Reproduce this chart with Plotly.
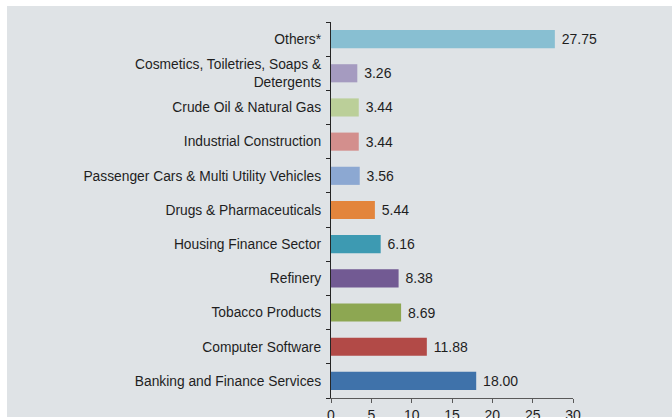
import plotly.graph_objects as go

# Sectors, bottom to top
sectors = [
    "Banking and Finance Services",
    "Computer Software",
    "Tobacco Products",
    "Refinery",
    "Housing Finance Sector",
    "Drugs & Pharmaceuticals",
    "Passenger Cars & Multi Utility Vehicles",
    "Industrial Construction",
    "Crude Oil & Natural Gas",
    "Cosmetics, Toiletries, Soaps &<br>Detergents",
    "Others*",
]
shares = [18.00, 11.88, 8.69, 8.38, 6.16, 5.44, 3.56, 3.44, 3.44, 3.26, 27.75]
bar_colors = [
    "#3F72AA", "#B24A47", "#8DA752", "#725A93", "#3D9AB2", "#E3853C",
    "#8CA8D2", "#D38F8D", "#BBCF99", "#A59BC0", "#88BFD2",
]
x_ticks = [0, 5, 10, 15, 20, 25, 30]

W, H = 672, 418
L, R, T, B = 331, 99, 22, 20
BG = "#DFE3E6"
TXT = "#1E1E1E"
FONT = "Liberation Sans, Arial, sans-serif"

fig = go.Figure(
    go.Bar(
        x=shares,
        y=sectors,
        orientation="h",
        marker=dict(color=bar_colors, line=dict(width=0)),
        width=0.53,
        text=[f" {v:.2f}" for v in shares],
        textposition="outside",
        textfont=dict(family=FONT, size=14, color=TXT),
        cliponaxis=False,
        hoverinfo="skip",
    )
)

# grey panel behind everything, leaving a thin white rim at the top and left
pw, ph = W - L - R, H - T - B
fig.add_shape(
    type="rect", xref="paper", yref="paper", layer="below",
    x0=(7 - L) / pw, x1=(W - L) / pw,
    y0=(H - B - 417) / ph, y1=(H - B - 6) / ph,
    fillcolor=BG, line=dict(width=0),
)

fig.update_layout(
    width=W, height=H,
    margin=dict(l=L, r=R, t=T, b=B, pad=0, autoexpand=False),
    paper_bgcolor="white",
    plot_bgcolor="rgba(0,0,0,0)",
    showlegend=False,
    font=dict(family=FONT, size=13.8, color=TXT),
    xaxis=dict(
        range=[0, 30], tickvals=x_ticks, showgrid=False, zeroline=False,
        showline=True, linecolor="#595959", linewidth=1.2,
        ticks="outside", ticklen=4, tickcolor="#595959",
        tickfont=dict(family=FONT, size=14, color=TXT),
        automargin=False,
    ),
    yaxis=dict(
        categoryorder="array", categoryarray=sectors,
        showgrid=False, zeroline=False,
        showline=True, linecolor="#262626", linewidth=1.2,
        ticks="outside", ticklen=4, tickcolor="#262626",
        tickson="boundaries", ticklabelstandoff=6,
        tickfont=dict(family=FONT, size=13.8, color=TXT),
        automargin=False,
    ),
)

fig.write_html("out.html")
